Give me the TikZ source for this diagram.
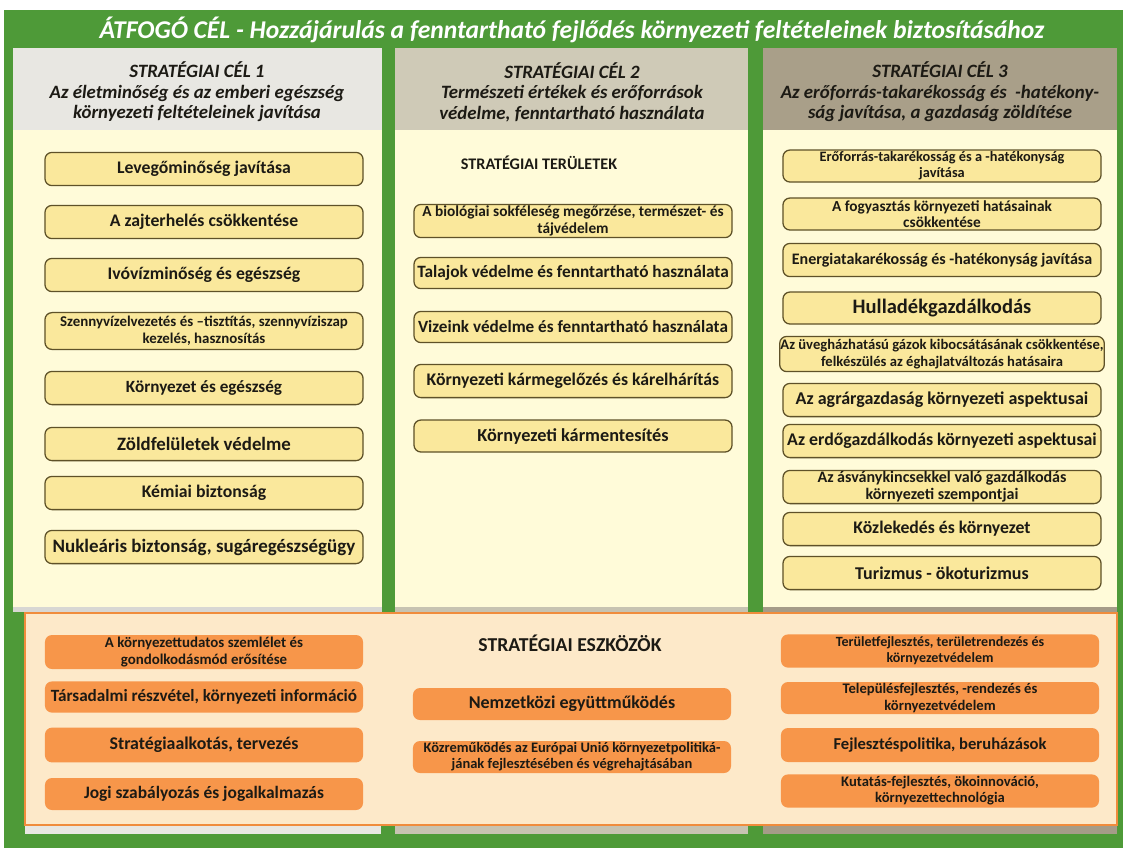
\documentclass[tikz,border=0pt]{standalone}
\usepackage{fontspec}
\setmainfont{Carlito}
\usetikzlibrary{positioning}
\definecolor{frame}{HTML}{4E9A38}
\definecolor{head1}{HTML}{E8E7E2}
\definecolor{head2}{HTML}{CFCAB7}
\definecolor{head3}{HTML}{A99F89}
\definecolor{body}{HTML}{FFFBD9}
\definecolor{boxfill}{HTML}{FAE89C}
\definecolor{boxline}{HTML}{5E5128}
\definecolor{panel}{HTML}{FDE9C9}
\definecolor{panelline}{HTML}{F08C3C}
\definecolor{toolfill}{HTML}{F7964A}
\definecolor{ink}{HTML}{1C1A14}

\begin{document}
\begin{tikzpicture}[x=0.025cm,y=-0.025cm,
    goal/.style={align=center, text=ink, font=\fontsize{13.4}{14.6}\selectfont\bfseries\itshape},
    area/.style={draw=boxline, fill=boxfill, rounded corners=5pt, line width=0.9pt,
      minimum width=7.95cm, minimum height=0.83cm, inner sep=0.5pt, align=center, text=ink,
      font=\fontsize{12.6}{13.5}\selectfont\bfseries},
    tool/.style={fill=toolfill, rounded corners=5pt, minimum width=7.95cm, minimum height=0.8cm,
      inner sep=0.5pt, align=center, text=ink, font=\fontsize{12.4}{13.5}\selectfont\bfseries},
    fs/.style 2 args={font=\fontsize{#1}{#2}\selectfont\bfseries},
    caption/.style={text=ink, font=\fontsize{12}{14}\selectfont\bfseries}
    ]
    \useasboundingbox (0,0) rectangle (1128,851);
    \fill[white] (0,0) rectangle (1128,851);
    \fill[frame] (4,10) rectangle (1123,848);

    \fill[head1] (13,48) rectangle (382,130);
    \fill[head2] (395,48) rectangle (748,130);
    \fill[head3] (763,48) rectangle (1117,130);
    \fill[body] (13,130) rectangle (382,612);
    \fill[body] (395,130) rectangle (748,612);
    \fill[body] (763,130) rectangle (1117,612);
    \fill[head1!85!gray] (13,607) rectangle (382,612);
    \fill[head2!90!gray] (395,607) rectangle (748,612);
    \fill[head3!90!gray] (763,607) rectangle (1117,612);
    \fill[head1] (25,826) rectangle (381,834);
    \fill[head2!90!gray] (395,826) rectangle (748,834);
    \fill[head3!90!gray] (763,826) rectangle (1117,834);
    \draw[panelline, fill=panel, line width=2pt] (25,613) rectangle (1117,825);

    \node[text=white, font=\fontsize{18.2}{20}\selectfont\bfseries\itshape] (title) at (572,30)
      {ÁTFOGÓ CÉL - Hozzájárulás a fenntartható fejlődés környezeti feltételeinek biztosításához};

    \node[goal] (goal1) at (197,92) {STRATÉGIAI CÉL 1\\Az életminőség és az emberi egészség\\környezeti feltételeinek javítása};
    \node[goal] (goal2) at (572,92) {STRATÉGIAI CÉL 2\\Természeti értékek és erőforrások\\védelme, fenntartható használata};
    \node[goal] (goal3) at (940,92) {STRATÉGIAI CÉL 3\\Az erőforrás-takarékosság és \ -hatékony-\\ság javítása, a gazdaság zöldítése};

    \node[area] (levego) at (204,169) {Levegőminőség javítása};
    \node[area] (zaj) at (204,222) {A zajterhelés csökkentése};
    \node[area] (ivoviz) at (204,275) {Ivóvízminőség és egészség};
    \node[area, fs={10.6}{12}, minimum height=0.92cm] (szennyviz) at (204,331) {Szennyvízelvezetés és –tisztítás, szennyvíziszap\\kezelés, hasznosítás};
    \node[area, fs={12.2}{13}] (kornyezet) at (204,388) {Környezet és egészség};
    \node[area, fs={13.4}{14}] (zold) at (204,444) {Zöldfelületek védelme};
    \node[area] (kemiai) at (204,493) {Kémiai biztonság};
    \node[area, fs={13.5}{14}] (nuklearis) at (204,547) {Nukleáris biztonság, sugáregészségügy};

    \node[caption, fs={11.5}{13}] (teruletek) at (539,163) {STRATÉGIAI TERÜLETEK};
    \node[area, fs={10.9}{11.8}] (biologiai) at (573,221) {A biológiai sokféleség megőrzése, természet- és\\tájvédelem};
    \node[area, fs={12.3}{13}, minimum height=0.78cm] (talaj) at (573,273) {Talajok védelme és fenntartható használata};
    \node[area, fs={12.2}{13}, minimum height=0.78cm] (vizeink) at (573,327) {Vizeink védelme és fenntartható használata};
    \node[area] (karmegelozes) at (573,381) {Környezeti kármegelőzés és kárelhárítás};
    \node[area, fs={13}{14}, minimum height=0.8cm] (karmentesites) at (573,436) {Környezeti kármentesítés};

    \node[area, fs={10.2}{11.5}, minimum height=0.8cm] (eroforras) at (942,166) {Erőforrás-takarékosság és a -hatékonyság\\javítása};
    \node[area, fs={10.9}{11.5}, minimum height=0.8cm] (fogyasztas) at (942,214) {A fogyasztás környezeti hatásainak\\csökkentése};
    \node[area, fs={11.4}{12}] (energia) at (942,260) {Energiatakarékosság és -hatékonyság javítása};
    \node[area, fs={14.6}{15}, minimum height=0.8cm] (hulladek) at (942,308) {Hulladékgazdálkodás};
    \node[area, fs={10.4}{11.8}, minimum height=0.88cm] (uveghaz) at (942,354) {Az üvegházhatású gázok kibocsátásának csökkentése,\\felkészülés az éghajlatváltozás hatásaira};
    \node[area, fs={12.8}{13.5}] (agrar) at (942,400) {Az agrárgazdaság környezeti aspektusai};
    \node[area, fs={12.7}{13.5}] (erdo) at (942,441) {Az erdőgazdálkodás környezeti aspektusai};
    \node[area, fs={11.4}{12}] (asvany) at (942,487) {Az ásványkincsekkel való gazdálkodás\\környezeti szempontjai};
    \node[area] (kozlekedes) at (942,529) {Közlekedés és környezet};
    \node[area, fs={12.8}{13.5}] (turizmus) at (942,573) {Turizmus - ökoturizmus};

    \node[tool, fs={10.6}{11.8}, minimum height=0.85cm] (szemlelet) at (204,652) {A környezettudatos szemlélet és\\gondolkodásmód erősítése};
    \node[tool, fs={12.2}{13}, minimum height=0.78cm] (reszvetel) at (204,697) {Társadalmi részvétel, környezeti információ};
    \node[tool, fs={12.7}{13.5}, minimum height=0.87cm] (strategia) at (204,745) {Stratégiaalkotás, tervezés};
    \node[tool] (jogi) at (204,794) {Jogi szabályozás és jogalkalmazás};

    \node[caption, fs={14}{15}] (eszkozok) at (570,643) {STRATÉGIAI ESZKÖZÖK};
    \node[tool, fs={12.8}{13.5}] (nemzetkozi) at (572,704) {Nemzetközi együttműködés};
    \node[tool, fs={10.3}{11.5}] (europai) at (572,757) {Közreműködés az Európai Unió környezetpolitiká-\\jának fejlesztésében és végrehajtásában};

    \node[tool, fs={10}{11.5}, minimum height=0.83cm] (teruletfejl) at (940,651) {Területfejlesztés, területrendezés és\\környezetvédelem};
    \node[tool, fs={10.4}{11.5}] (telepules) at (940,698) {Településfejlesztés, -rendezés és\\környezetvédelem};
    \node[tool, fs={11.8}{13}, minimum height=0.85cm] (fejlpolitika) at (940,745) {Fejlesztéspolitika, beruházások};
    \node[tool, fs={10.4}{11.5}, minimum height=0.83cm] (kutatas) at (940,791) {Kutatás-fejlesztés, ökoinnováció,\\környezettechnológia};
  \end{tikzpicture}
\end{document}
